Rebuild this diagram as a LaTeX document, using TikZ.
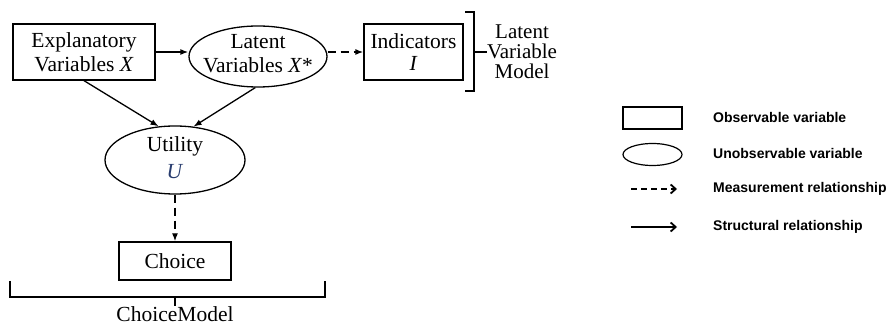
\documentclass[tikz,border=0pt]{standalone}
\usepackage{fontspec}
\setmainfont{Liberation Serif}
\newfontfamily\legendfont{Liberation Sans}
\usetikzlibrary{arrows.meta,shapes.geometric}
\definecolor{unavy}{RGB}{40,60,110}
\begin{document}
\begin{tikzpicture}[x=1pt,y=-1pt,
  mainfont/.style={font=\fontsize{21.5}{24}\selectfont},
  obsbox/.style={draw,line width=1.3pt,inner sep=0pt,minimum width=#1},
  latbox/.style={draw,ellipse,line width=1.3pt,inner sep=0pt},
  txt/.style={mainfont,align=center,inner sep=0pt},
  sarrow/.style={line width=1.3pt,-{Latex[length=8pt,width=6pt]}},
  darrow/.style={line width=1.3pt,dash pattern=on 8pt off 5pt,-{Latex[length=8pt,width=6pt]}},
  brack/.style={line width=1.5pt},
  legtxt/.style={font=\legendfont\bfseries\fontsize{14}{16}\selectfont,anchor=west,inner sep=0pt},
  legline/.style={line width=1.4pt}
]
\useasboundingbox (0,0) rectangle (889,328);

% main nodes
\node[obsbox=142pt,minimum height=56pt,txt] (expl) at (84,52) {Explanatory\\Variables \textit{X}};
\node[latbox,minimum width=138pt,minimum height=61pt] (latent) at (258,56.5) {};
\node[txt] (latentT) at (258,53.5) {Latent\\Variables \textit{X}*};
\node[obsbox=99pt,minimum height=56pt,txt,font=\fontsize{21.5}{22}\selectfont] (ind) at (413.5,52) {Indicators\\\textit{I}};
\node[latbox,minimum width=140pt,minimum height=68pt] (utility) at (175,160) {};
\node[txt,font=\fontsize{21.5}{27}\selectfont] (utilityT) at (175,158) {Utility\\\textcolor{unavy}{\textit{U}}};
\node[obsbox=112pt,minimum height=38pt,txt] (choice) at (175,261) {Choice};

% connectors
\draw[sarrow] (expl.east) -- (expl.east -| latent.west);
\draw[darrow] (latent.east |- ind.west) -- (ind.west);
\draw[sarrow] (expl.south) -- (utility.116);
\draw[sarrow] (latent.265) -- (utility.61);
\draw[darrow] (utility.south) -- (choice.north);

% latent variable model bracket
\node[txt,font=\fontsize{21}{20}\selectfont] (lvm) at (522,52) {Latent\\Variable\\Model};
\coordinate (b1) at (465,12);
\coordinate (b2) at (474,12);
\coordinate (b3) at (474,91);
\coordinate (b4) at (465,91);
\coordinate (bm) at (474,52);
\draw[brack] (b1) -- (b2) -- (b3) -- (b4);
\draw[brack] (bm) -- (lvm.west);

% choice model bracket
\coordinate (c1) at (10,281);
\coordinate (c2) at (10,297);
\coordinate (c3) at (325,297);
\coordinate (c4) at (325,281);
\coordinate (cm0) at (175,297);
\node[txt,anchor=north] (cm) at (175,306) {ChoiceModel};
\draw[brack] (c1) -- (c2) -- (c3) -- (c4);
\draw[brack] (cm0) -- (cm.north);

% legend
\node[draw,line width=1.2pt,minimum width=59pt,minimum height=22pt,inner sep=0pt] (lbox) at (652.5,118) {};
\node[draw,ellipse,line width=1.2pt,minimum width=59pt,minimum height=22pt,inner sep=0pt] (lell) at (652.5,154.5) {};
\coordinate (ld1) at (631,189);
\coordinate (ld2) at (677,189);
\coordinate (ls1) at (631,227);
\coordinate (ls2) at (677,227);
\draw[legline,dash pattern=on 6pt off 4pt,-{Straight Barb[length=5pt,width=9pt,line width=1.8pt]}] (ld1) -- (ld2);
\draw[legline,-{Straight Barb[length=5pt,width=9pt,line width=1.8pt]}] (ls1) -- (ls2);
\node[legtxt] (t1) at (713,117) {Observable variable};
\node[legtxt] (t2) at (713,153) {Unobservable variable};
\node[legtxt] (t3) at (713,189) {Measurement relationship};
\node[legtxt] (t4) at (713,227) {Structural relationship};
\end{tikzpicture}
\end{document}
